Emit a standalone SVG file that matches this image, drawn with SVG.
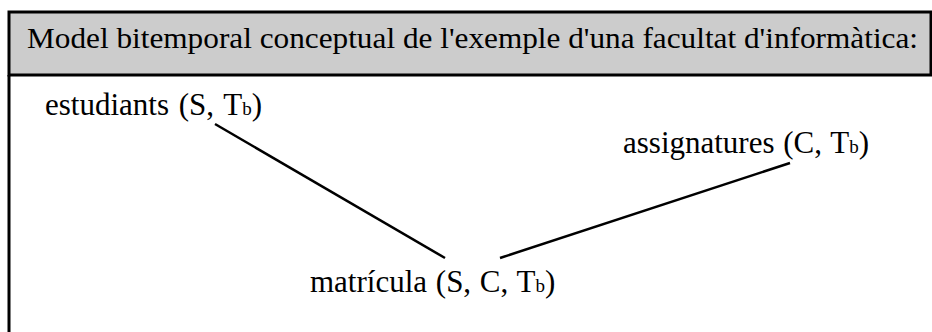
<svg xmlns="http://www.w3.org/2000/svg" width="932" height="332" viewBox="0 0 932 332">
<style>
text { font-family: "Liberation Serif", "Times New Roman", serif; font-size: 31px; fill: #000; }
.hdr { font-size: 30px; }
.sub { font-size: 19px; }
.edge { stroke: #000; stroke-width: 2.5; fill: none; }
</style>
<rect width="932" height="332" fill="#fff"/>
<g id="frame">
<rect x="9" y="12" width="922" height="63" fill="#cccccc" stroke="#000" stroke-width="3"/>
<line x1="9" y1="75" x2="9" y2="332" stroke="#000" stroke-width="3"/>
<text class="hdr" x="27" y="48" textLength="891" lengthAdjust="spacingAndGlyphs">Model bitemporal conceptual de l'exemple d'una facultat d'informàtica:</text>
</g>
<g id="connectors">
<line class="edge" x1="215" y1="124" x2="445" y2="258"/>
<line class="edge" x1="500" y1="258" x2="790" y2="163"/>
</g>
<g id="estudiants">
<text x="45" y="115" word-spacing="2">estudiants (S, T<tspan class="sub">b</tspan>)</text>
</g>
<g id="assignatures">
<text x="623" y="153" word-spacing="1">assignatures (C, T<tspan class="sub">b</tspan>)</text>
</g>
<g id="matricula">
<text x="310" y="292" word-spacing="1">matrícula (S, C, T<tspan class="sub">b</tspan>)</text>
</g>
</svg>
